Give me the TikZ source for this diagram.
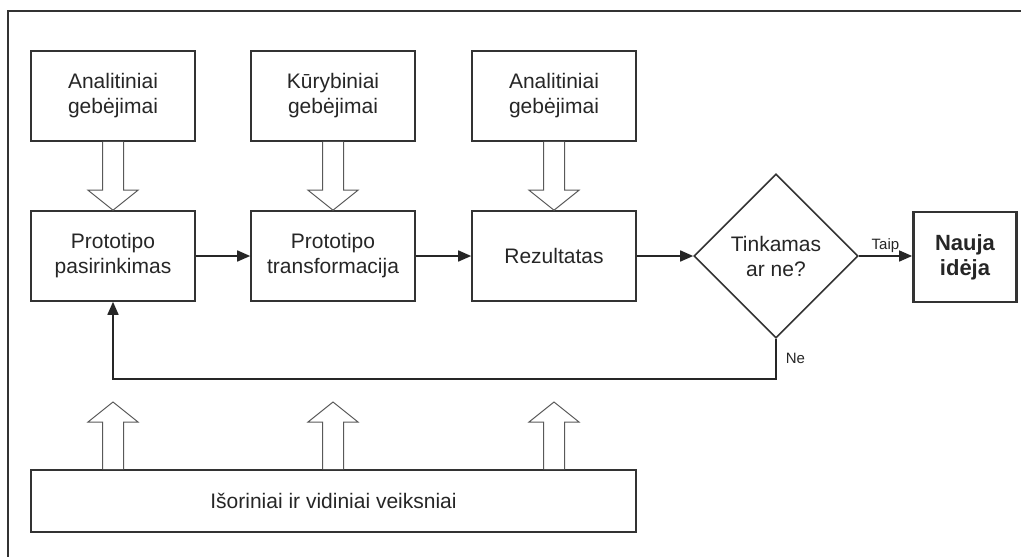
\documentclass[tikz,border=0pt]{standalone}
\usepackage{fontspec}
\setmainfont{Liberation Sans}
\usetikzlibrary{shapes.geometric,arrows.meta,calc}

% hollow block arrow from #1 (tail) to #2 (tip), vertical
\newcommand{\fatarrow}[2]{%
    \draw[fat] ($(#1)+(-5.25pt,0)$) -- ($(#2)!10pt!(#1)+(-5.25pt,0)$)
        -- ($(#2)!10pt!(#1)+(-12.5pt,0)$) -- (#2)
        -- ($(#2)!10pt!(#1)+(12.5pt,0)$) -- ($(#2)!10pt!(#1)+(5.25pt,0)$)
        -- ($(#1)+(5.25pt,0)$);%
}

\begin{document}
\begin{tikzpicture}[
        x=0.5pt, y=-0.5pt,
        block/.style={
            rectangle,
            draw=black!80,
            line width=0.8pt,
            align=center,
            minimum width=82pt,
            minimum height=45pt,
            text=black!85,
            font=\fontsize{10.5}{12.5}\selectfont,
            inner sep=2pt
        },
        wideblock/.style={
            block,
            minimum width=302.5pt,
            minimum height=31pt
        },
        endblock/.style={
            block,
            line width=1.4pt,
            minimum width=51.5pt,
            font=\bfseries\fontsize{11}{12.5}\selectfont
        },
        decision/.style={
            diamond,
            draw=black!80,
            line width=0.8pt,
            align=center,
            minimum width=82pt,
            minimum height=82pt,
            inner sep=0pt,
            text=black!85,
            font=\fontsize{10.5}{12.5}\selectfont
        },
        smalltext/.style={
            text=black!85,
            font=\fontsize{7.5}{9}\selectfont,
            inner sep=1.5pt
        },
        arrow/.style={-{Triangle[length=6.5pt,width=5.5pt]}, line width=0.8pt, draw=black!85},
        fat/.style={draw=black!65, line width=0.5pt, fill=white}
    ]

        \useasboundingbox (0,0) rectangle (1021,557);
        \draw[black!80, line width=0.6pt] (1021,11) -- (8,11) -- (8,557);

        \node[block] (ana1) at (113,96) {Analitiniai\\gebėjimai};
        \node[block] (kur) at (333,96) {Kūrybiniai\\gebėjimai};
        \node[block] (ana2) at (554,96) {Analitiniai\\gebėjimai};
        \node[block] (pas) at (113,256) {Prototipo\\pasirinkimas};
        \node[block] (tra) at (333,256) {Prototipo\\transformacija};
        \node[block] (rez) at (554,256) {Rezultatas};
        \node[decision] (tink) at (776,256) {Tinkamas\\ar ne?};
        \node[endblock] (nauja) at (965,257) {Nauja\\idėja};
        \node[wideblock] (veik) at (333.5,501) {Išoriniai ir vidiniai veiksniai};

        \draw[arrow] (pas.east) -- (tra.west);
        \draw[arrow] (tra.east) -- (rez.west);
        \draw[arrow] (rez.east) -- (tink.west);
        \draw[arrow] (tink.east) -- node[smalltext, above] {Taip} (nauja.west |- tink.east);
        \draw[arrow] (tink.south) -- node[smalltext, right, xshift=3pt] {Ne} ++(0,40) -| (pas.south);

        \fatarrow{ana1.south}{pas.north}
        \fatarrow{kur.south}{tra.north}
        \fatarrow{ana2.south}{rez.north}

        \coordinate (up1) at (113,402);
        \coordinate (up2) at (333,402);
        \coordinate (up3) at (554,402);
        \fatarrow{veik.north -| up1}{up1}
        \fatarrow{veik.north -| up2}{up2}
        \fatarrow{veik.north -| up3}{up3}

    \end{tikzpicture}
\end{document}
